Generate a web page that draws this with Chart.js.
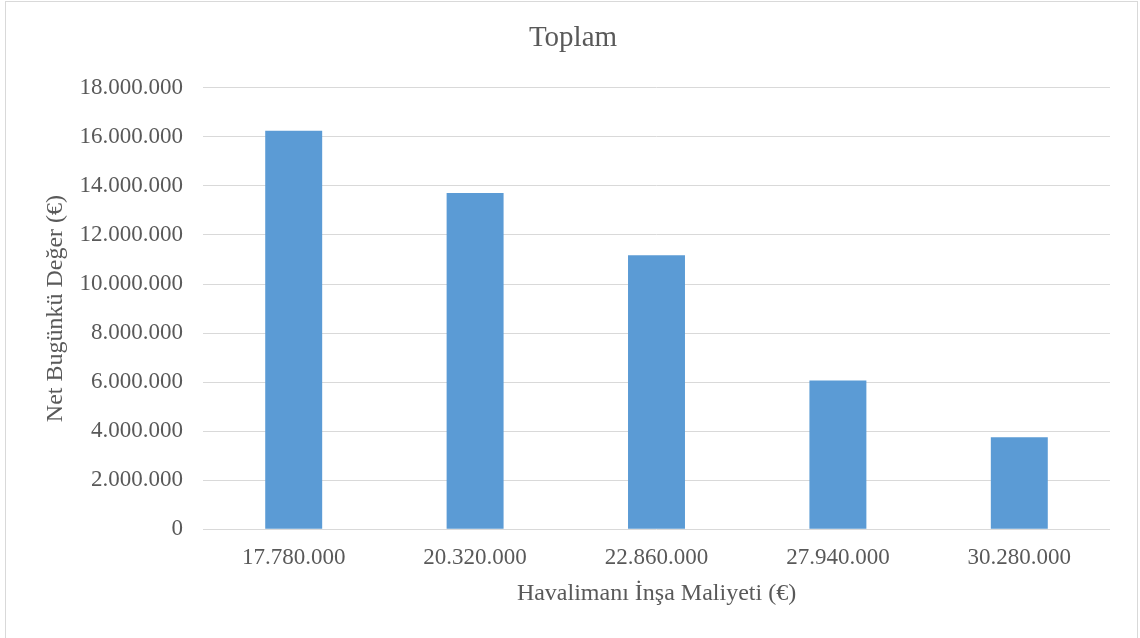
<!DOCTYPE html>
<html lang="tr">
<head>
<meta charset="utf-8">
<title>Toplam</title>
<script src="https://cdn.jsdelivr.net/npm/chart.js@4/dist/chart.umd.min.js"></script>
<style>
  html, body { margin: 0; padding: 0; background: #ffffff; }
  #wrap { position: relative; width: 1140px; height: 638px; overflow: hidden; }
  #frame {
    position: absolute; left: 5px; top: 1px; width: 1133px; height: 650px;
    border: 1px solid #d9d9d9; box-sizing: border-box; pointer-events: none;
  }
  canvas { position: absolute; left: 0; top: 0; }
</style>
</head>
<body>
<div id="wrap">
  <canvas id="chart" width="1140" height="638"></canvas>
  <div id="frame"></div>
</div>
<script>
// Airport construction cost scenarios (€) and resulting net present value (€)
const costs = [17780000, 20320000, 22860000, 27940000, 30280000];
const npvValues = [16250000, 13710000, 11170000, 6070000, 3750000];
const yTicks = [0, 2000000, 4000000, 6000000, 8000000, 10000000, 12000000, 14000000, 16000000, 18000000];

const chartTitle = 'Toplam';
const xTitle = 'Havalimanı İnşa Maliyeti (€)';
const yTitle = 'Net Bugünkü Değer (€)';

// Turkish thousands grouping with dots
function fmt(n) {
  return String(Math.round(n)).replace(/\B(?=(\d{3})+(?!\d))/g, '.');
}

const FONT = "'Liberation Serif', 'Times New Roman', serif";
const TEXT = '#595959';
const GRID = '#d9d9d9';

new Chart(document.getElementById('chart'), {
  type: 'bar',
  data: {
    labels: costs.map(fmt),
    datasets: [{
      label: chartTitle,
      data: npvValues,
      backgroundColor: '#5b9bd5',
      borderWidth: 0,
      categoryPercentage: 1,
      barPercentage: 0.314
    }]
  },
  options: {
    responsive: false,
    animation: false,
    devicePixelRatio: 1,
    layout: { padding: { left: 36, right: 30, top: 0, bottom: 0 } },
    plugins: {
      legend: { display: false },
      tooltip: { enabled: false },
      title: {
        display: true,
        text: chartTitle,
        color: TEXT,
        font: { family: FONT, size: 29, weight: 'normal', lineHeight: 1.2 },
        padding: { top: 21, bottom: 32 }
      }
    },
    scales: {
      x: {
        grid: { display: false, drawTicks: false },
        border: { display: false },
        ticks: {
          color: TEXT,
          padding: 15,
          maxRotation: 0,
          font: { family: FONT, size: 23, lineHeight: 1.2 }
        },
        title: {
          display: true,
          text: xTitle,
          color: TEXT,
          font: { family: FONT, size: 24, lineHeight: 1.2 },
          padding: { top: 0, bottom: 30 }
        },
        afterFit(scale) { scale.height = 108.7; }
      },
      y: {
        min: 0,
        max: 18000000,
        afterBuildTicks(scale) { scale.ticks = yTicks.map(v => ({ value: v })); },
        grid: { color: GRID, lineWidth: 1, drawTicks: false },
        border: { display: false },
        ticks: {
          color: TEXT,
          padding: 20,
          font: { family: FONT, size: 23, lineHeight: 1.2 },
          callback: (v) => fmt(v)
        },
        title: {
          display: true,
          text: yTitle,
          color: TEXT,
          font: { family: FONT, size: 24, lineHeight: 1.2 },
          padding: { top: 5, bottom: 0 }
        },
        afterFit(scale) { scale.width = 167; }
      }
    }
  }
});
</script>
</body>
</html>
